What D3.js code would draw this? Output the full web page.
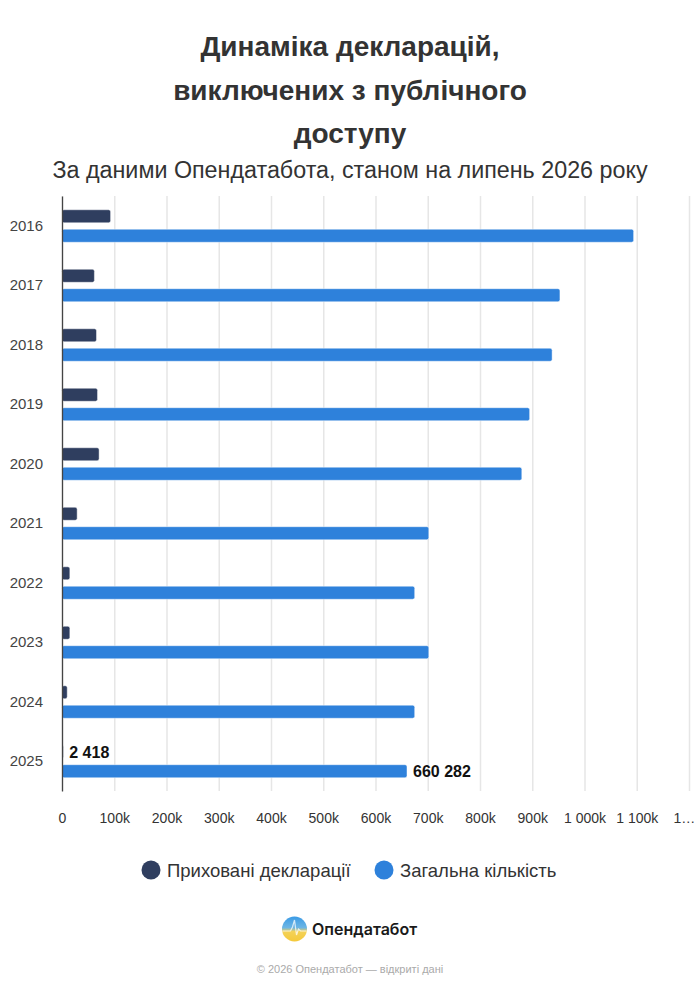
<!DOCTYPE html>
<html>
<head>
<meta charset="utf-8">
<script src="https://cdn.jsdelivr.net/npm/d3@7"></script>
<style>
  html, body { margin: 0; padding: 0; background: #fff; }
  svg { display: block; font-family: "Liberation Sans", Arial, sans-serif; }
</style>
</head>
<body>
<script>
// ---------------------------------------------------------------
//  DATA
// ---------------------------------------------------------------
var years = ["2016", "2017", "2018", "2019", "2020", "2021", "2022", "2023", "2024", "2025"];
var hiddenDecl = [93000, 62000, 66000, 68000, 71000, 29000, 15000, 15000, 10000, 2418];
var totalDecl = [1094000, 953000, 938000, 895000, 880000, 702000, 675000, 702000, 675000, 660282];
var seriesNames = ["Приховані декларації", "Загальна кількість"];
var seriesColors = ["#2f3e5f", "#2e81db"];
var tickValues = [0, 100000, 200000, 300000, 400000, 500000, 600000, 700000, 800000, 900000, 1000000, 1100000, 1200000];
var tickLabels = ["0", "100k", "200k", "300k", "400k", "500k", "600k", "700k", "800k", "900k", "1 000k", "1 100k", "1 200k"];
var labelledYear = "2025";

var titleLines = ["Динаміка декларацій,", "виключених з публічного", "доступу"];
var subtitle = "За даними Опендатабота, станом на липень 2026 року";

// ---------------------------------------------------------------
//  SVG
// ---------------------------------------------------------------
var W = 700, H = 992;
var plot = {left: 62, right: 689, top: 196, bottom: 791};

var svg = d3.select("body").append("svg")
    .attr("width", W)
    .attr("height", H);

// title + subtitle
svg.append("g").selectAll("text")
    .data(titleLines)
    .join("text")
        .attr("x", W / 2)
        .attr("y", function(d, i) { return 56 + i * 43.5; })
        .attr("text-anchor", "middle")
        .attr("font-size", 28)
        .attr("font-weight", "bold")
        .attr("fill", "#333")
        .text(function(d) { return d; });

svg.append("text")
    .attr("x", W / 2)
    .attr("y", 178)
    .attr("text-anchor", "middle")
    .attr("font-size", 23.3)
    .attr("fill", "#333")
    .text(subtitle);

// scales
var x = d3.scaleLinear()
    .domain([0, 1200000])
    .range([plot.left, plot.right]);

var y0 = d3.scaleBand()
    .domain(years)
    .range([plot.top, plot.bottom]);

var mid = y0.bandwidth() / 2;
var y1 = d3.scaleBand()
    .domain([0, 1])
    .range([mid - 16, mid + 16.5])
    .paddingInner(0.33);

// gridlines
svg.append("g")
    .attr("class", "grid")
    .attr("transform", "translate(0," + plot.bottom + ")")
    .call(d3.axisBottom(x).tickValues(tickValues).tickSize(-(plot.bottom - plot.top)).tickFormat(""))
    .call(function(g) {
        g.select(".domain").remove();
        g.selectAll("line").attr("stroke", "#e6e6e6").attr("stroke-width", 1.5);
    });

// x tick labels
var xAxis = svg.append("g")
    .attr("transform", "translate(0," + plot.bottom + ")")
    .call(d3.axisBottom(x)
        .tickValues(tickValues)
        .tickSize(0)
        .tickPadding(22)
        .tickFormat(function(d, i) { return tickLabels[i]; }));
xAxis.select(".domain").remove();
xAxis.selectAll("text")
    .attr("font-family", "Liberation Sans, Arial, sans-serif")
    .attr("font-size", 14)
    .attr("fill", "#333");
// truncate the last label if it runs off the page
xAxis.selectAll("text").each(function() {
    var t = d3.select(this);
    var bb = this.getBBox();
    var tx = x(t.datum());
    if (tx + bb.width / 2 > W - 2) {
        t.attr("text-anchor", "start").attr("x", -16).text(t.text().charAt(0) + "…");
    }
});

// bars
var rows = years.map(function(yr, i) {
    return {year: yr, values: [hiddenDecl[i], totalDecl[i]]};
});

var group = svg.append("g").selectAll("g")
    .data(rows)
    .join("g")
        .attr("transform", function(d) { return "translate(0," + y0(d.year) + ")"; });

group.selectAll("rect")
    .data(function(d) { return d.values.map(function(v, k) { return {k: k, v: v}; }); })
    .join("rect")
        .attr("x", x(0))
        .attr("y", function(d) { return y1(d.k); })
        .attr("width", function(d) { return x(d.v) - x(0); })
        .attr("height", y1.bandwidth())
        .attr("rx", 2)
        .attr("fill", function(d) { return seriesColors[d.k]; })
        .attr("stroke", "rgba(255,255,255,0.45)")
        .attr("stroke-width", 1);

// value labels on last year
var fmt = d3.formatLocale({decimal: ",", thousands: " ", grouping: [3], currency: ["", ""]}).format(",d");
group.filter(function(d) { return d.year === labelledYear; })
    .selectAll("text")
    .data(function(d) { return d.values.map(function(v, k) { return {k: k, v: v}; }); })
    .join("text")
        .attr("x", function(d) { return x(d.v) + 6; })
        .attr("y", function(d) { return y1(d.k) + y1.bandwidth() / 2; })
        .attr("dy", "0.36em")
        .attr("font-size", 16)
        .attr("font-weight", "bold")
        .attr("fill", "#111")
        .text(function(d) { return fmt(d.v); });

// y axis
var yAxis = svg.append("g")
    .attr("transform", "translate(" + plot.left + ",0)")
    .call(d3.axisLeft(y0).tickSize(0).tickSizeOuter(0).tickPadding(19));
yAxis.select(".domain").attr("stroke", "#444").attr("stroke-width", 1.3);
yAxis.selectAll("text")
    .attr("font-family", "Liberation Sans, Arial, sans-serif")
    .attr("font-size", 15)
    .attr("fill", "#444");

// legend
var legendX = [151, 384];
var legend = svg.append("g").selectAll("g")
    .data(seriesNames)
    .join("g")
        .attr("transform", function(d, i) { return "translate(" + legendX[i] + ",870)"; });
legend.append("circle")
    .attr("r", 9.5)
    .attr("fill", function(d, i) { return seriesColors[i]; });
legend.append("text")
    .attr("x", 16)
    .attr("y", 6.5)
    .attr("font-size", 18.5)
    .attr("fill", "#333")
    .text(function(d) { return d; });

// logo
var defs = svg.append("defs");
var grad = defs.append("linearGradient")
    .attr("id", "logoGrad")
    .attr("x1", 0).attr("y1", 0).attr("x2", 0).attr("y2", 1);
grad.append("stop").attr("offset", "0%").attr("stop-color", "#3b9be6");
grad.append("stop").attr("offset", "45%").attr("stop-color", "#6db6e4");
grad.append("stop").attr("offset", "60%").attr("stop-color", "#f3d258");
grad.append("stop").attr("offset", "100%").attr("stop-color", "#f5c93a");

var logo = svg.append("g").attr("transform", "translate(294.5,929)");
logo.append("circle").attr("r", 12.5).attr("fill", "url(#logoGrad)");
logo.append("path")
    .attr("d", "M-12,2 L-4,2 L-2,-2 L0,-9 L2,6 L4,0 L6,2 L12,2")
    .attr("fill", "none")
    .attr("stroke", "#fff")
    .attr("stroke-opacity", 0.75)
    .attr("stroke-width", 1.2);

svg.append("text")
    .attr("x", 312)
    .attr("y", 935)
    .attr("font-family", "Inter, 'Noto Sans', sans-serif")
    .attr("font-size", 16)
    .attr("font-weight", 600)
    .attr("fill", "#1a1a1a")
    .text("Опендатабот");

svg.append("text")
    .attr("x", W / 2)
    .attr("y", 973)
    .attr("text-anchor", "middle")
    .attr("font-size", 11)
    .attr("fill", "#aaa")
    .text("© 2026 Опендатабот — відкриті дані");
</script>
</body>
</html>
